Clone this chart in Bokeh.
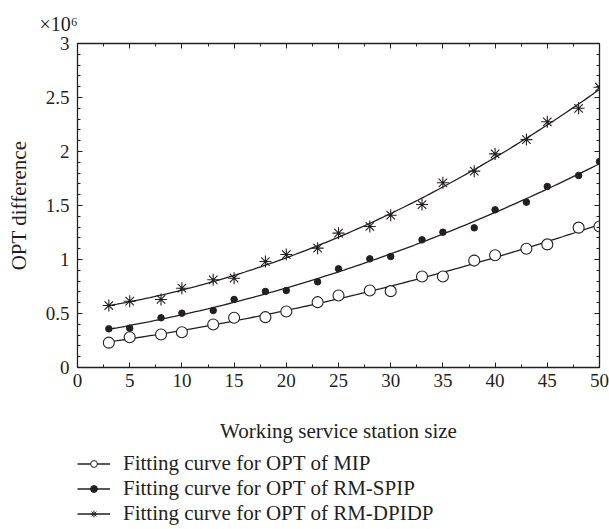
import numpy as np
from bokeh.plotting import figure
from bokeh.layouts import column
from bokeh.models import (Range1d, LinearAxis, Legend, LegendItem, Title,
                          SingleIntervalTicker, CustomJSTickFormatter)
from bokeh.embed import file_html
from bokeh.resources import INLINE

# ---- data (values in units of 10^6) ----
station_size = [3, 5, 8, 10, 13, 15, 18, 20, 23, 25, 28, 30, 33, 35, 38, 40, 43, 45, 48, 50]
opt_mip = [0.23, 0.28, 0.305, 0.327, 0.398, 0.46, 0.466, 0.518, 0.605, 0.667,
           0.713, 0.707, 0.843, 0.843, 0.99, 1.04, 1.10, 1.14, 1.295, 1.306]
opt_rm_spip = [0.358, 0.364, 0.46, 0.503, 0.528, 0.63, 0.704, 0.713, 0.793, 0.914,
               1.006, 1.028, 1.182, 1.253, 1.293, 1.46, 1.531, 1.676, 1.778, 1.907]
opt_rm_dpidp = [0.574, 0.614, 0.63, 0.734, 0.812, 0.827, 0.981, 1.046, 1.105, 1.244,
                1.306, 1.41, 1.509, 1.71, 1.818, 1.978, 2.11, 2.275, 2.40, 2.595]
series_names = ["Fitting curve for OPT of MIP",
                "Fitting curve for OPT of RM-SPIP",
                "Fitting curve for OPT of RM-DPIDP"]
y_ticks = [0, 0.5, 1, 1.5, 2, 2.5, 3]
y_tick_labels = ["0", "0.5", "1", "1.5", "2", "2.5", "3"]

INK = "#231f20"
FONT = "Liberation Serif"

p = figure(frame_width=522, frame_height=324, output_backend="svg", toolbar_location=None,
           x_range=Range1d(0, 50), y_range=Range1d(0, 3),
           min_border_left=76, min_border_right=11, min_border_top=43,
           min_border_bottom=80)
p.outline_line_color = None
p.xgrid.visible = False
p.ygrid.visible = False
p.background_fill_color = "white"
p.border_fill_color = "white"

def style_axis(ax):
    ax.axis_line_color = INK
    ax.axis_line_width = 1.3
    ax.major_tick_line_color = INK
    ax.minor_tick_line_color = INK
    ax.major_tick_in = 5
    ax.major_tick_out = 0
    ax.minor_tick_in = 3
    ax.minor_tick_out = 0
    ax.major_label_text_font = FONT
    ax.major_label_text_font_size = "19px"
    ax.major_label_text_color = INK
    ax.axis_label_text_font = FONT
    ax.axis_label_text_font_size = "21px"
    ax.axis_label_text_color = INK
    ax.axis_label_text_font_style = "normal"

xa = p.xaxis[0]
xa.ticker = SingleIntervalTicker(interval=5, num_minor_ticks=2)
xa.axis_label = "Working service station size"
style_axis(xa)
xa.major_label_standoff = 6
xa.axis_label_standoff = 29

ya = p.yaxis[0]
ya.ticker = SingleIntervalTicker(interval=0.5, num_minor_ticks=5)
ya.major_label_overrides = {v: s for v, s in zip(y_ticks, y_tick_labels)}
ya.axis_label = "OPT difference"
style_axis(ya)
ya.major_label_standoff = 8
ya.axis_label_standoff = 12

blank = CustomJSTickFormatter(code="return ''")
top = LinearAxis(ticker=SingleIntervalTicker(interval=5, num_minor_ticks=2),
                 formatter=blank)
style_axis(top)
p.add_layout(top, "above")
right = LinearAxis(ticker=SingleIntervalTicker(interval=0.5, num_minor_ticks=5),
                   formatter=blank)
style_axis(right)
p.add_layout(right, "right")

p.add_layout(Title(text="×10⁶", text_font=FONT, text_font_size="20px",
                   text_font_style="normal", text_color=INK, align="left",
                   offset=-38, standoff=18), "above")

# fitted curves (least-squares quadratic of the read points)
xs_fit = np.linspace(min(station_size), max(station_size), 120)
all_series = [opt_mip, opt_rm_spip, opt_rm_dpidp]
markers = [("circle", 11, "white", 1.1), ("circle", 6.5, INK, 1.0), ("asterisk", 12, INK, 1.1)]
legend_markers = [("circle", 8, "white", 1.0), ("circle", 5, INK, 1.0), ("asterisk", 9, INK, 1.0)]
fits = []
for ys, (mk, sz, fill, lw) in zip(all_series, markers):
    coef = np.polyfit(station_size, ys, 2)
    fy = np.polyval(coef, xs_fit)
    fits.append(fy)
    p.line(xs_fit, fy, line_color=INK, line_width=1.3)
    p.scatter(station_size, ys, marker=mk, size=sz, line_color=INK,
              fill_color=fill, line_width=lw)

# legend panel below the chart (its renderers lie outside its own view)
lg = figure(width=609, height=82, output_backend="svg", toolbar_location=None,
            x_range=Range1d(-100, -99), y_range=Range1d(-100, -99),
            x_axis_type=None, y_axis_type=None,
            min_border_left=77, min_border_top=4, min_border_right=0,
            min_border_bottom=0)
lg.outline_line_color = None
lg.xgrid.visible = False
lg.ygrid.visible = False
lg.background_fill_color = "white"
lg.border_fill_color = "white"
items = []
for name, ys, fy, (mk, sz, fill, lw) in zip(series_names, all_series, fits, legend_markers):
    ln = lg.line(xs_fit, fy, line_color=INK, line_width=1.3)
    sc = lg.scatter(station_size, ys, marker=mk, size=sz, line_color=INK,
                    fill_color=fill, line_width=lw)
    items.append(LegendItem(label=name, renderers=[ln, sc]))
legend = Legend(items=items, location="top_left", orientation="vertical",
                glyph_width=33, glyph_height=17, label_standoff=13,
                label_text_font=FONT, label_text_font_size="21px",
                label_text_color=INK, label_height=25, spacing=0,
                padding=0, margin=0, border_line_color=None,
                background_fill_alpha=0)
lg.add_layout(legend, "center")

layout = column(p, lg, spacing=0)
open("out.html", "w").write(file_html(layout, INLINE))
